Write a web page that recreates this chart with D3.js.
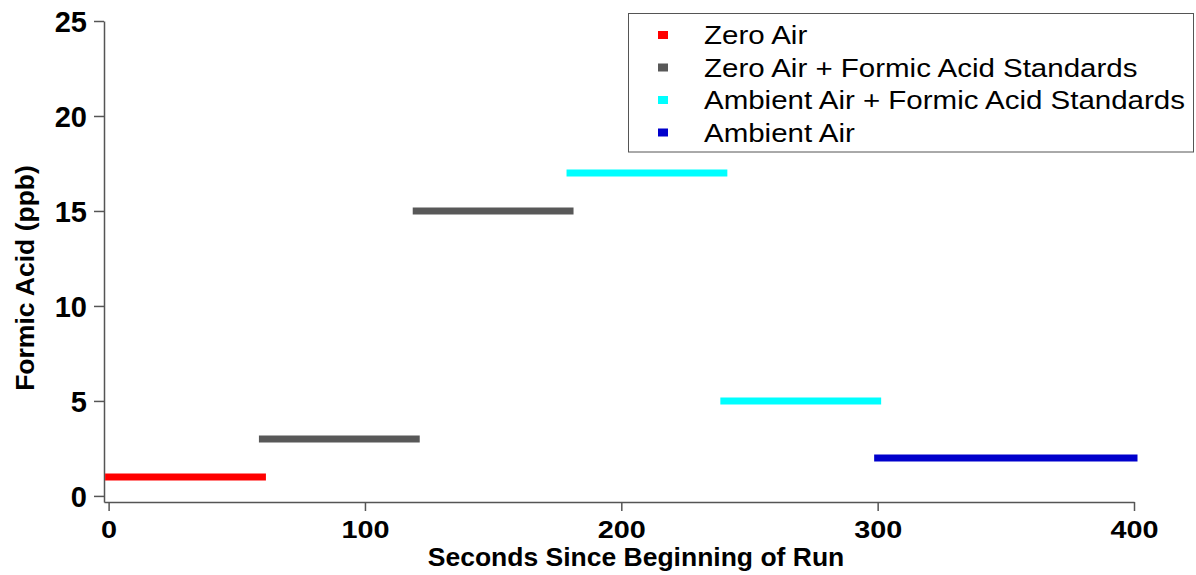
<!DOCTYPE html>
<html>
<head>
<meta charset="utf-8">
<script src="https://cdn.jsdelivr.net/npm/d3@7"></script>
<style>
  body { margin: 0; background: #fff; }
  svg { display: block; font-family: "Liberation Sans", Arial, sans-serif; }
</style>
</head>
<body>
<svg id="chart"></svg>
<script>
// series: each step is a constant level held over a time window
const seriesNames = ["Zero Air", "Zero Air + Formic Acid Standards", "Ambient Air + Formic Acid Standards", "Ambient Air"];
const seriesColors = ["#ff0000", "#585858", "#00ffff", "#0000cc"];
const segStart = [0, 60, 120, 180, 240, 300];
const segEnd = [60, 120, 180, 240, 300, 400];
const segValue = [1, 3, 15, 17, 5, 2];
const segSeries = [0, 1, 1, 2, 2, 3];
const xTicks = [0, 100, 200, 300, 400];
const yTicks = [0, 5, 10, 15, 20, 25];

const width = 1196, height = 575;
const svg = d3.select("#chart").attr("width", width).attr("height", height);

const x = d3.scaleLinear().domain([-1.8, 400]).range([104, 1134]);
const y = d3.scaleLinear().domain([-0.32, 25]).range([502, 21]);

const segs = segStart.map((s, i) => ({s, e: segEnd[i], v: segValue[i], k: segSeries[i]}));

// axes
const xAxis = svg.append("g")
  .attr("transform", `translate(0,${y(-0.32)})`)
  .call(d3.axisBottom(x).tickValues(xTicks).tickSize(9).tickSizeOuter(0).tickPadding(10));
const yAxis = svg.append("g")
  .attr("transform", `translate(${x(-1.8)},0)`)
  .call(d3.axisLeft(y).tickValues(yTicks).tickSize(10).tickSizeOuter(0).tickPadding(7));

[xAxis, yAxis].forEach(g => {
  g.selectAll("path, line").attr("stroke", "#555").attr("stroke-width", 1.5);
  g.selectAll("text").attr("fill", "#000").attr("font-weight", "bold")
    .attr("font-family", "Liberation Sans, Arial, sans-serif");
});
// x tick labels look a bit wider than tall in the original
xAxis.selectAll(".tick text")
  .attr("font-size", 24)
  .attr("transform", "scale(1.2,1)");
yAxis.selectAll("text").attr("font-size", 29).attr("dy", "0.36em");

// step segments
svg.append("g").selectAll("line").data(segs).join("line")
  .attr("x1", d => x(d.s)).attr("x2", d => x(d.e))
  .attr("y1", d => y(d.v)).attr("y2", d => y(d.v))
  .attr("stroke", d => seriesColors[d.k])
  .attr("stroke-width", 7)
  .attr("stroke-linecap", "square");

// axis titles
svg.append("text")
  .attr("transform", "translate(636,566) scale(1.06,1)")
  .attr("text-anchor", "middle")
  .attr("font-size", 25).attr("font-weight", "bold")
  .text("Seconds Since Beginning of Run");
svg.append("text")
  .attr("transform", "translate(34,278) rotate(-90)")
  .attr("text-anchor", "middle")
  .attr("font-size", 26.5).attr("font-weight", "bold")
  .text("Formic Acid (ppb)");

// legend
const legend = svg.append("g");
legend.append("rect")
  .attr("x", 628.5).attr("y", 13.5).attr("width", 565).attr("height", 138.5)
  .attr("fill", "#fff").attr("stroke", "#555").attr("stroke-width", 1);
const rows = legend.selectAll("g.row").data(seriesNames).join("g")
  .attr("class", "row")
  .attr("transform", (d, i) => `translate(0,${35 + i * 32.5})`);
rows.append("rect")
  .attr("x", 658).attr("y", -4).attr("width", 10).attr("height", 8)
  .attr("fill", (d, i) => seriesColors[i]);
rows.append("text")
  .attr("transform", "translate(704,0) scale(1.18,1)")
  .attr("dy", "0.36em")
  .attr("font-size", 25)
  .text(d => d);
</script>
</body>
</html>
